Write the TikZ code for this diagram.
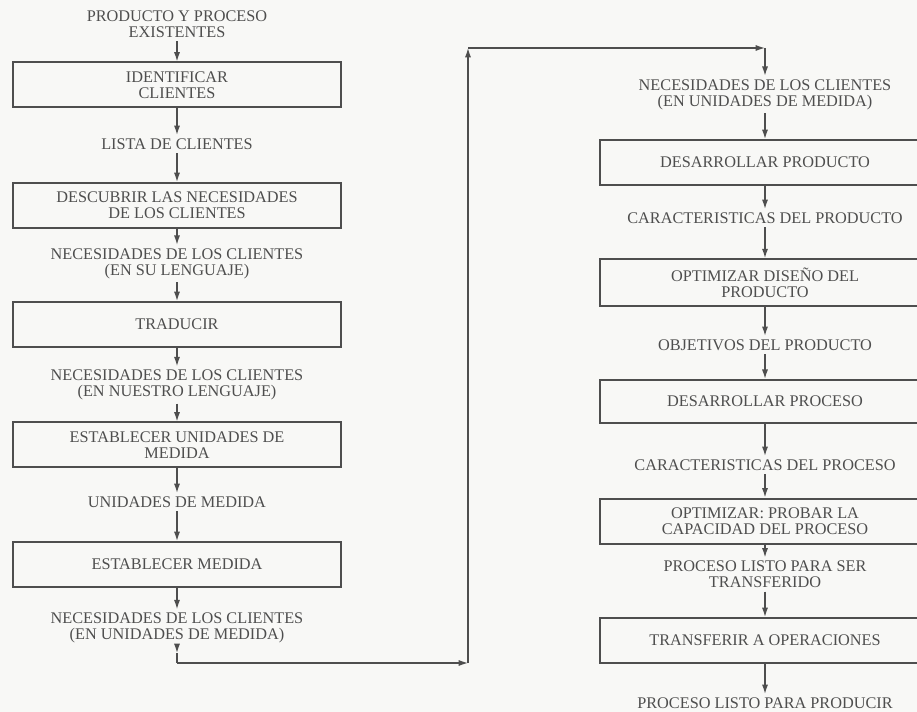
\documentclass[tikz,border=0pt]{standalone}
\usepackage{fontspec}
\setmainfont{Liberation Serif}
\usetikzlibrary{arrows.meta}
\definecolor{ink}{RGB}{78,78,78}
\definecolor{paper}{RGB}{248,248,246}
\tikzset{
  label text/.style={font=\fontsize{12.2}{12}\selectfont, text=ink, align=center, inner sep=2.5pt},
  stepbox/.style={draw=ink, line width=1.5pt, font=\fontsize{12.2}{12}\selectfont, text=ink,
    align=center, minimum height=33.75pt, inner sep=0pt},
  leftbox/.style={stepbox, minimum width=246pt},
  rightbox/.style={stepbox, minimum width=247.5pt},
  flow/.style={draw=ink, line width=1pt, -{Latex[length=7pt,width=4.6pt]}},
  plain/.style={draw=ink, line width=1pt},
}
\begin{document}
\begin{tikzpicture}[x=0.75pt, y=-0.75pt]
  \fill[paper] (0,0) rectangle (917,712);
  \useasboundingbox (0,0) rectangle (917,712);
  \clip (0,0) rectangle (917,712);

  % left column
  \node[label text] (t0) at (177,24) {PRODUCTO Y PROCESO\\EXISTENTES};
  \node[leftbox]    (b1) at (177,85) {IDENTIFICAR\\CLIENTES};
  \node[label text] (t1) at (177,144) {LISTA DE CLIENTES};
  \node[leftbox]    (b2) at (177,205.5) {DESCUBRIR LAS NECESIDADES\\DE LOS CLIENTES};
  \node[label text] (t2) at (177,263.5) {NECESIDADES DE LOS CLIENTES\\(EN SU LENGUAJE)};
  \node[leftbox]    (b3) at (177,324.5) {TRADUCIR};
  \node[label text] (t3) at (177,385) {NECESIDADES DE LOS CLIENTES\\(EN NUESTRO LENGUAJE)};
  \node[leftbox]    (b4) at (177,445) {ESTABLECER UNIDADES DE\\MEDIDA};
  \node[label text] (t4) at (177,502) {UNIDADES DE MEDIDA};
  \node[leftbox]    (b5) at (177,564.5) {ESTABLECER MEDIDA};
  \node[label text] (t5) at (177,628) {NECESIDADES DE LOS CLIENTES\\(EN UNIDADES DE MEDIDA)};

  % right column
  \node[label text] (r0) at (765,94.5) {NECESIDADES DE LOS CLIENTES\\(EN UNIDADES DE MEDIDA)};
  \node[rightbox]   (c1) at (765,162.5) {DESARROLLAR PRODUCTO};
  \node[label text] (r1) at (765,218) {CARACTERISTICAS DEL PRODUCTO};
  \node[rightbox, minimum height=35pt] (c2) at (765,282.5) {OPTIMIZAR DISEÑO DEL\\PRODUCTO};
  \node[label text] (r2) at (765,345) {OBJETIVOS DEL PRODUCTO};
  \node[rightbox, minimum height=32.5pt] (c3) at (765,401.5) {DESARROLLAR PROCESO};
  \node[label text] (r3) at (765,465) {CARACTERISTICAS DEL PROCESO};
  \node[rightbox]   (c4) at (765,521) {OPTIMIZAR: PROBAR LA\\CAPACIDAD DEL PROCESO};
  \node[label text] (r4) at (765,574.5) {PROCESO LISTO PARA SER\\TRANSFERIDO};
  \node[rightbox]   (c5) at (765,640.5) {TRANSFERIR A OPERACIONES};
  \node[label text] (r5) at (765,703) {PROCESO LISTO PARA PRODUCIR};

  % left column flow
  \draw[flow] (t0) -- (b1);
  \draw[flow] (b1) -- (t1);
  \draw[flow] (t1) -- (b2);
  \draw[flow] (b2) -- (t2);
  \draw[flow] (t2) -- (b3);
  \draw[flow] (b3) -- (t3);
  \draw[flow] (t3) -- (b4);
  \draw[flow] (b4) -- (t4);
  \draw[flow] (t4) -- (b5);
  \draw[flow] (b5) -- (t5);

  % link between the two columns
  \coordinate (k0) at (177,653);
  \coordinate (k1) at (177,663);
  \coordinate (k2) at (468,663);
  \coordinate (k3) at (468,48);
  \coordinate (k4) at (765,48);
  \draw[flow] (t5) -- (k0);
  \draw[plain] (k0) -- (k1);
  \draw[flow] (k1) -- (k2);
  \draw[flow] (k2) -- (k3);
  \draw[flow] (k3) -- (k4);
  \draw[flow] (k4) -- (r0);

  % right column flow
  \draw[flow] (r0) -- (c1);
  \draw[flow] (c1) -- (r1);
  \draw[flow] (r1) -- (c2);
  \draw[flow] (c2) -- (r2);
  \draw[flow] (r2) -- (c3);
  \draw[flow] (c3) -- (r3);
  \draw[flow] (r3) -- (c4);
  \draw[flow] (c4) -- (r4);
  \draw[flow] (r4) -- (c5);
  \draw[flow] (c5) -- (r5);
\end{tikzpicture}
\end{document}
